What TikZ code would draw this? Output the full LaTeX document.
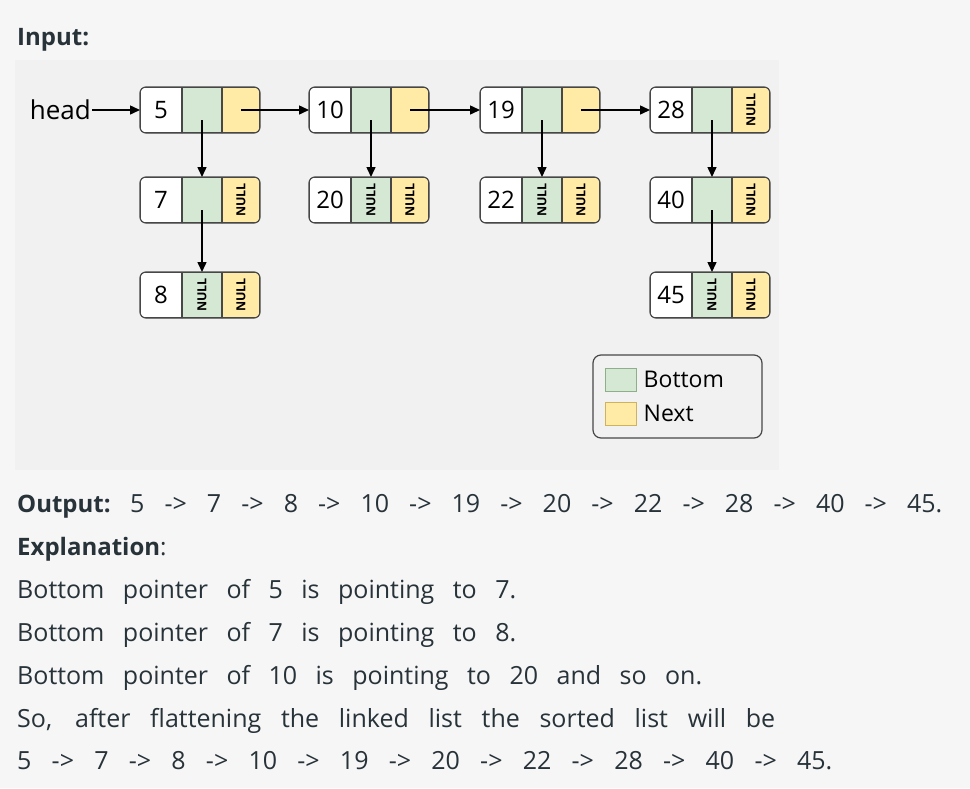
\documentclass[tikz,border=0pt]{standalone}
\usepackage{fontspec}
\usepackage{graphicx}
\setmainfont{Open Sans}
\newfontfamily\diafont{Open Sans}
\usetikzlibrary{positioning,arrows.meta}

\definecolor{pagebg}{HTML}{F6F6F6}
\definecolor{panelbg}{HTML}{F1F1F1}
\definecolor{txtc}{HTML}{273239}
\definecolor{botfill}{HTML}{D5E8D4}
\definecolor{nxtfill}{HTML}{FFEAA6}
\definecolor{botedge}{HTML}{8DAF8A}
\definecolor{nxtedge}{HTML}{CFB25E}
\definecolor{cellline}{HTML}{474747}

\tikzset{
  cell/.style={draw=cellline, line width=1.1pt, minimum height=46pt, inner sep=0pt,
    outer sep=0pt, font=\diafont\fontsize{24}{26}\selectfont},
  valcell/.style={cell, fill=white, minimum width=42pt},
  botcell/.style={cell, fill=botfill, minimum width=40pt},
  nxtcell/.style={cell, fill=nxtfill, minimum width=38pt},
  ptr/.style={-{Triangle[length=10pt,width=9pt]}, line width=1.5pt, black},
  txtline/.style={anchor=base west, inner sep=0pt, text=txtc, font=\fontsize{25}{29}\selectfont},
  boldline/.style={txtline, font=\bfseries\fontsize{24}{28}\selectfont},
  swatch/.style={minimum width=31pt, minimum height=23pt, inner sep=0pt, line width=1pt},
  keytext/.style={anchor=west, inner sep=0pt, font=\diafont\fontsize{23}{26}\selectfont},
}

\newcommand{\nullmark}{\rotatebox{90}{\fontsize{12.5}{13}\selectfont\bfseries NULL}}

% one list node: name, left x, middle y, value, bottom cell, next cell
\newcommand{\listnode}[6]{%
  \begin{scope}
    \clip[rounded corners=6pt] (#2,#3-23) rectangle ++(120,46);
    \node[valcell] (#1) at (#2+21,#3) {#4};
    \node[botcell, right=0pt of #1] (#1b) {#5};
    \node[nxtcell, right=0pt of #1b] (#1n) {#6};
  \end{scope}
  \draw[cellline, line width=1.2pt, rounded corners=6pt] (#2,#3-23) rectangle ++(120,46);
}

\begin{document}
\begin{tikzpicture}[x=1pt, y=-1pt]
\fill[pagebg] (0,0) rectangle (970,788);
\useasboundingbox (0,0) rectangle (970,788);
\fill[panelbg] (15,60) rectangle (779,470);

\node[boldline] (inlbl) at (17,45) {Input:};

% top row
\listnode{n5}{140}{110}{5}{}{}
\listnode{n10}{309}{110}{10}{}{}
\listnode{n19}{480}{110}{19}{}{}
\listnode{n28}{650}{110}{28}{}{\nullmark}
% second row
\listnode{n7}{140}{200}{7}{}{\nullmark}
\listnode{n20}{309}{200}{20}{\nullmark}{\nullmark}
\listnode{n22}{480}{200}{22}{\nullmark}{\nullmark}
\listnode{n40}{650}{200}{40}{}{\nullmark}
% third row
\listnode{n8}{140}{295}{8}{\nullmark}{\nullmark}
\listnode{n45}{650}{295}{45}{\nullmark}{\nullmark}

\node[anchor=east, inner sep=1pt, font=\diafont\fontsize{26}{28}\selectfont] (head) at (92,110) {head};
\draw[ptr] (head.east) -- (n5.west);

% next pointers
\draw[ptr] (n5n.center) -- (n10.west);
\draw[ptr] (n10n.center) -- (n19.west);
\draw[ptr] (n19n.center) -- (n28.west);

% bottom pointers
\draw[ptr, shorten <=10pt] (n5b.center) -- (n7b.north);
\draw[ptr, shorten <=10pt] (n7b.center) -- (n8b.north);
\draw[ptr, shorten <=10pt] (n10b.center) -- (n20b.north);
\draw[ptr, shorten <=10pt] (n19b.center) -- (n22b.north);
\draw[ptr, shorten <=10pt] (n28b.center) -- (n40b.north);
\draw[ptr, shorten <=10pt] (n40b.center) -- (n45b.north);

% legend
\draw[cellline, line width=1.2pt, rounded corners=8pt, fill=panelbg] (593,355) rectangle (762,438);
\node[swatch, draw=botedge, fill=botfill] (keybot) at (620.5,379.5) {};
\node[swatch, draw=nxtedge, fill=nxtfill] (keynxt) at (620.5,413.5) {};
\node[keytext, right=7pt of keybot] (keybottxt) {Bottom};
\node[keytext, right=7pt of keynxt] (keynxttxt) {Next};

% text below
\node[boldline] (outlbl) at (17,512) {Output:};
\node[txtline] (outlist) at (130,512) {\makebox[812pt][s]{5 -> 7 -> 8 -> 10 -> 19 -> 20 -> 22 -> 28 -> 40 -> 45.}};
\node[txtline, font=\fontsize{24}{28}\selectfont] (expl) at (17,555) {\textbf{Explanation}:};
\node[txtline] (line1) at (17,598) {\makebox[499pt][s]{Bottom pointer of 5 is pointing to 7.}};
\node[txtline] (line2) at (17,641) {\makebox[499pt][s]{Bottom pointer of 7 is pointing to 8.}};
\node[txtline] (line3) at (17,684) {\makebox[685pt][s]{Bottom pointer of 10 is pointing to 20 and so on.}};
\node[txtline] (line4) at (17,727) {\makebox[758pt][s]{So, after flattening the linked list the sorted list will be}};
\node[txtline] (line5) at (17,769) {\makebox[815pt][s]{5 -> 7 -> 8 -> 10 -> 19 -> 20 -> 22 -> 28 -> 40 -> 45.}};
\end{tikzpicture}
\end{document}
